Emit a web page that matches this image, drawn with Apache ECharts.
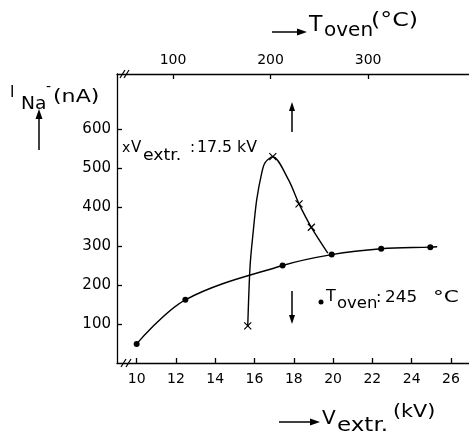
<!DOCTYPE html>
<html><head><meta charset="utf-8">
<script src="https://cdn.jsdelivr.net/npm/echarts@6/dist/echarts.min.js"></script>
<style>html,body{margin:0;padding:0;background:#fff}#c{width:469px;height:433px}</style>
</head><body><div id="c"></div>
<script>
// Curve at Toven = 245 °C (bottom axis, Vextr in kV)
const vextr      = [10, 12.48, 17.43, 19.93, 22.45, 24.95, 25.3];
const iAtT245    = [49, 162, 250, 278, 293, 297, 298];
const dotMarked  = [1, 1, 1, 1, 1, 1, 0];
// Curve at Vextr = 17.5 kV (top axis, Toven in °C)
const toven      = [176.6, 179, 182.4, 185.8, 191, 194.4, 202.3, 218.3, 229.2, 241.8, 258.7];
const iAtV175    = [95, 249, 342, 419, 488, 514, 529, 470, 408, 348, 282];
const crossMarked= [1, 0, 0, 0, 0, 0, 1, 0, 1, 1, 0];
// Tick labels
const vTicks = [10, 12, 14, 16, 18, 20, 22, 24, 26];
const tTicks = [100, 200, 300];
const iTicks = [100, 200, 300, 400, 500, 600];

const FONT = 'DejaVu Sans';
const chart = echarts.init(document.getElementById('c'), null, {renderer: 'canvas'});

const s1 = vextr.map((v, i) => ({value: [v, iAtT245[i]], symbol: dotMarked[i] ? 'circle' : 'none'}));
const s2 = toven.map((t, i) => ({value: [t, iAtV175[i]], symbol: crossMarked[i] ? 'path://M0,0L10,10M10,0L0,10' : 'none'}));

function arrow(x1, y1, x2, y2, hl, hw) {
  const dx = x2 - x1, dy = y2 - y1, L = Math.hypot(dx, dy), ux = dx / L, uy = dy / L;
  const bx = x2 - ux * hl, by = y2 - uy * hl;
  return [
    {type: 'line', shape: {x1, y1, x2: bx, y2: by}, style: {stroke: '#000', lineWidth: 1.5}},
    {type: 'polygon', shape: {points: [[x2, y2], [bx - uy * hw, by + ux * hw], [bx + uy * hw, by - ux * hw]]}, style: {fill: '#000'}}
  ];
}
function txt(x, y, text, size, sx) {
  return {type: 'text', x, y, scaleX: sx || 1, style: {text, fill: '#000', font: size + 'px "' + FONT + '"', textAlign: 'left', textVerticalAlign: 'middle'}};
}

const axisCommon = {
  axisLine: {lineStyle: {color: '#000', width: 1.3}},
  axisTick: {inside: true, length: 5, lineStyle: {color: '#000', width: 1.3}},
  axisLabel: {color: '#000', fontFamily: FONT, fontSize: 14},
  splitLine: {show: false}
};

chart.setOption({
  animation: false,
  backgroundColor: '#fff',
  grid: {left: 117, right: 0, top: 74, bottom: 70, containLabel: false},
  xAxis: [
    Object.assign({}, axisCommon, {type: 'value', position: 'bottom', min: 9, max: 26.92,
      axisTick: Object.assign({}, axisCommon.axisTick, {customValues: vTicks}),
      axisLabel: Object.assign({}, axisCommon.axisLabel, {customValues: vTicks, margin: 9})}),
    Object.assign({}, axisCommon, {type: 'value', position: 'top', min: 42.5, max: 403.5,
      axisTick: Object.assign({}, axisCommon.axisTick, {customValues: tTicks}),
      axisLabel: Object.assign({}, axisCommon.axisLabel, {customValues: tTicks, margin: 7})})
  ],
  yAxis: Object.assign({}, axisCommon, {type: 'value', min: 0, max: 741,
    axisTick: Object.assign({}, axisCommon.axisTick, {customValues: iTicks}),
    axisLabel: Object.assign({}, axisCommon.axisLabel, {customValues: iTicks, margin: 6, fontSize: 15})}),
  series: [
    {type: 'line', xAxisIndex: 0, data: s1, smooth: 0.35,
      symbolSize: 6, lineStyle: {color: '#000', width: 1.4}, itemStyle: {color: '#000'}},
    {type: 'line', xAxisIndex: 1, data: s2, smooth: 0.3,
      symbolSize: 7, lineStyle: {color: '#000', width: 1.4},
      itemStyle: {color: '#000', borderColor: '#000', borderWidth: 1.2}}
  ],
  graphic: [
    // axis break marks
    {type: 'rect', shape: {x: 121, y: 71, width: 7, height: 6}, style: {fill: '#fff'}},
    {type: 'line', shape: {x1: 120, y1: 78, x2: 125, y2: 70}, style: {stroke: '#000', lineWidth: 1.2}},
    {type: 'line', shape: {x1: 124, y1: 78, x2: 129, y2: 70}, style: {stroke: '#000', lineWidth: 1.2}},
    {type: 'rect', shape: {x: 123, y: 360, width: 7, height: 6}, style: {fill: '#fff'}},
    {type: 'line', shape: {x1: 121, y1: 367, x2: 126, y2: 359}, style: {stroke: '#000', lineWidth: 1.2}},
    {type: 'line', shape: {x1: 126, y1: 367, x2: 131, y2: 359}, style: {stroke: '#000', lineWidth: 1.2}},
    // arrows in plot
    ...arrow(292, 132, 292, 102, 9, 3),
    ...arrow(292, 291, 292, 324, 9, 3),
    // top title
    ...arrow(272, 32, 307, 32, 10, 3.5),
    txt(309, 25, 'T', 22),
    txt(324, 31, 'oven', 20),
    txt(371, 21, '(°C)', 19, 1.25),
    // bottom title
    ...arrow(279, 422, 320, 422, 10, 3.5),
    txt(322, 419, 'V', 20),
    txt(337, 426, 'extr.', 20, 1.15),
    txt(393, 412, '(kV)', 18, 1.15),
    // y title
    txt(10, 93, 'I', 15),
    txt(21, 105, 'Na', 17, 1.1),
    txt(46, 87, '-', 14),
    txt(53, 98, '(nA)', 17, 1.3),
    ...arrow(39, 150, 39, 109, 10, 3.5),
    // legend notes
    txt(122, 148, 'x', 14),
    txt(131, 148, 'V', 15),
    txt(143, 156, 'extr.', 15, 1.15),
    txt(190, 148, ':', 15),
    txt(197, 148, '17.5 kV', 15, 1.05),
    {type: 'circle', shape: {cx: 321, cy: 302, r: 2.5}, style: {fill: '#000'}},
    txt(326, 297, 'T', 16),
    txt(337, 304, 'oven', 15, 1.1),
    txt(376, 298, ':', 16),
    txt(385, 298, '245', 16, 1.05),
    txt(433, 298, '°C', 16, 1.35)
  ]
});
</script></body></html>
